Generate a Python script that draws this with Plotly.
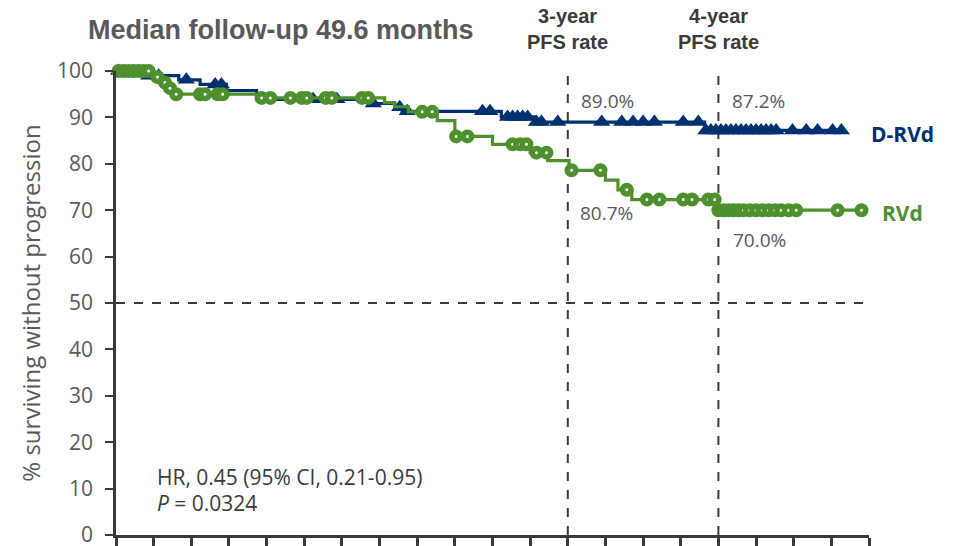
import numpy as np
import plotly.graph_objects as go

# ---- Kaplan-Meier data (months, % progression-free) ----
# D-RVd arm
drvd_event_months = [2.5, 5.0, 6.7, 8.8, 11.2, 20.2, 22.2, 22.8, 30.7, 33.4, 46.9]
drvd_survival = [99.0, 98.1, 97.1, 95.8, 93.9, 93.0, 92.2, 91.3, 90.1, 89.0, 87.2]
drvd_censored_months = [0.2, 2.6, 3.4, 5.6, 7.9, 8.4, 15.7, 17.6, 20.5, 22.6, 23.2,
                        29.2, 29.8, 31.2, 31.6, 32.0, 32.4, 32.8, 33.5, 33.9, 35.2,
                        38.7, 40.3, 41.2, 42.0, 42.9, 45.2, 46.4, 47.0, 47.4, 47.8,
                        48.2, 48.6, 49.0, 49.4, 49.8, 50.2, 50.6, 51.0, 51.4, 51.8,
                        52.2, 52.6, 53.9, 55.0, 55.9, 57.1, 57.8]

# RVd arm
rvd_event_months = [3.1, 3.7, 4.1, 4.5, 11.2, 21.4, 22.2, 23.3, 25.6, 27.0, 30.0,
                    33.0, 34.4, 36.1, 39.0, 40.0, 41.1, 47.9]
rvd_survival = [98.7, 97.5, 96.3, 95.0, 94.2, 93.2, 92.3, 91.2, 89.3, 85.9, 84.2,
                82.4, 80.7, 78.6, 76.5, 74.4, 72.3, 70.0]
rvd_censored_months = [0.2, 0.6, 1.0, 1.4, 1.8, 2.2, 2.6, 3.3, 3.9, 4.3, 4.8, 6.7,
                       7.1, 8.1, 8.5, 11.6, 12.3, 13.9, 14.8, 15.2, 16.7, 17.2, 19.6,
                       20.1, 24.4, 25.2, 27.1, 28.0, 31.6, 32.2, 32.7, 33.5, 34.3,
                       36.3, 38.6, 40.7, 42.3, 43.3, 45.2, 45.9, 47.2, 47.7, 48.0,
                       48.4, 48.8, 49.2, 49.6, 50.0, 50.5, 51.0, 51.5, 52.0, 52.5,
                       53.0, 53.6, 54.2, 57.5, 59.4]

# Landmark PFS rates
landmark_months = [36, 48]
landmark_titles = ["3-year", "4-year"]
drvd_landmark = [89.0, 87.2]
rvd_landmark = [80.7, 70.0]

NAVY = "#00306f"
GREEN = "#4e8f2e"
GRAY = "#595959"
DARK = "#3a3a3a"


def step_curve(event_t, surv, end_t):
    x = [0.0] + list(event_t) + [end_t]
    y = [100.0] + list(surv) + [surv[-1]]
    return x, y


def surv_at(event_t, surv, t):
    t = np.asarray(t)
    idx = np.searchsorted(np.asarray(event_t), t, side="right")
    levels = np.concatenate([[100.0], surv])
    return levels[idx]


fig = go.Figure()

# D-RVd
bx, by = step_curve(drvd_event_months, drvd_survival, max(drvd_censored_months))
fig.add_trace(go.Scatter(x=bx, y=by, mode="lines", line=dict(color=NAVY, width=3.2, shape="hv"),
                         cliponaxis=False, hoverinfo="skip", showlegend=False))
fig.add_trace(go.Scatter(x=drvd_censored_months,
                         y=surv_at(drvd_event_months, drvd_survival, drvd_censored_months),
                         mode="markers", marker=dict(symbol="triangle-up", size=15, color=NAVY),
                         cliponaxis=False, showlegend=False))

# RVd
gx, gy = step_curve(rvd_event_months, rvd_survival, max(rvd_censored_months))
fig.add_trace(go.Scatter(x=gx, y=gy, mode="lines", line=dict(color=GREEN, width=3.2, shape="hv"),
                         cliponaxis=False, hoverinfo="skip", showlegend=False))
fig.add_trace(go.Scatter(x=rvd_censored_months,
                         y=surv_at(rvd_event_months, rvd_survival, rvd_censored_months),
                         mode="markers",
                         marker=dict(symbol="circle", size=8.5, color="white",
                                     line=dict(color=GREEN, width=5.5)),
                         cliponaxis=False, showlegend=False))

# Reference lines: 50% and the landmark times
fig.add_shape(type="line", x0=0, x1=60, y0=50, y1=50, xref="x", yref="y",
              line=dict(color=DARK, width=2, dash="dash"), layer="below")
for m in landmark_months:
    fig.add_shape(type="line", x0=m, x1=m, y0=0, y1=100.3, xref="x", yref="y",
                  line=dict(color=DARK, width=2, dash="dash"), layer="below")

font_main = "Open Sans, Liberation Sans, sans-serif"
font_head = "Liberation Sans Narrow, Arial Narrow, Liberation Sans, sans-serif"

# Header texts above the plotting area
fig.add_annotation(x=0.219, y=1.088, xref="paper", yref="paper",
                   xanchor="center", yanchor="middle",
                   text="<b>Median follow-up 49.6 months</b>", showarrow=False,
                   font=dict(family=font_head, size=27, color=GRAY))
for m, label in zip(landmark_months, landmark_titles):
    fig.add_annotation(x=m, y=1.091, xref="x", yref="paper",
                       xanchor="center", yanchor="middle",
                       text=f"<b>{label}<br>PFS rate</b>", showarrow=False,
                       font=dict(family=font_head, size=20, color=DARK))

# Landmark values
for m, v in zip(landmark_months, drvd_landmark):
    fig.add_annotation(x=m + 3.2, y=93.5, xref="x", yref="y", text=f"{v:.1f}%",
                       showarrow=False, font=dict(family=font_main, size=19, color=GRAY))
fig.add_annotation(x=landmark_months[0] + 3.1, y=69.4, xref="x", yref="y",
                   text=f"{rvd_landmark[0]:.1f}%", showarrow=False,
                   font=dict(family=font_main, size=19, color=GRAY))
fig.add_annotation(x=landmark_months[1] + 3.3, y=63.6, xref="x", yref="y",
                   text=f"{rvd_landmark[1]:.1f}%", showarrow=False,
                   font=dict(family=font_main, size=19, color=GRAY))

# Arm labels to the right of the curves
fig.add_annotation(x=1.044, y=86.4, xref="paper", yref="y", xanchor="center",
                   yanchor="middle", text="<b>D-RVd</b>",
                   showarrow=False, font=dict(family=font_main, size=21, color=NAVY))
fig.add_annotation(x=1.045, y=69.4, xref="paper", yref="y", xanchor="center",
                   yanchor="middle", text="<b>RVd</b>",
                   showarrow=False, font=dict(family=font_main, size=21, color=GREEN))

# Hazard ratio
fig.add_annotation(x=3.1, y=12.5, xref="x", yref="y", xanchor="left",
                   text="HR, 0.45 (95% CI, 0.21-0.95)", showarrow=False,
                   font=dict(family=font_main, size=21, color=DARK))
fig.add_annotation(x=3.1, y=6.9, xref="x", yref="y", xanchor="left",
                   text="<i>P</i> = 0.0324", showarrow=False,
                   font=dict(family=font_main, size=21, color=DARK))

fig.update_layout(
    width=960, height=546,
    margin=dict(l=116, r=91, t=71, b=11),
    paper_bgcolor="white", plot_bgcolor="white",
    showlegend=False,
    xaxis=dict(range=[0, 60], dtick=3, tick0=0, showticklabels=False,
               showline=True, linecolor=DARK, linewidth=2.5,
               ticks="outside", ticklen=12, tickwidth=2.5, tickcolor=DARK,
               showgrid=False, zeroline=False, automargin=False),
    yaxis=dict(range=[0, 100], dtick=10, tick0=0,
               showline=True, linecolor=DARK, linewidth=2.5,
               ticks="outside", ticklen=8, tickwidth=2, tickcolor=DARK,
               showgrid=False, zeroline=False, ticklabelstandoff=8, automargin=False,
               ticklabeloverflow="allow",
               tickfont=dict(family=font_main, size=21, color=GRAY),
               title=dict(text="% surviving without progression", standoff=10,
                          font=dict(family=font_main, size=24, color=GRAY))),
)

fig.write_html("out.html")
